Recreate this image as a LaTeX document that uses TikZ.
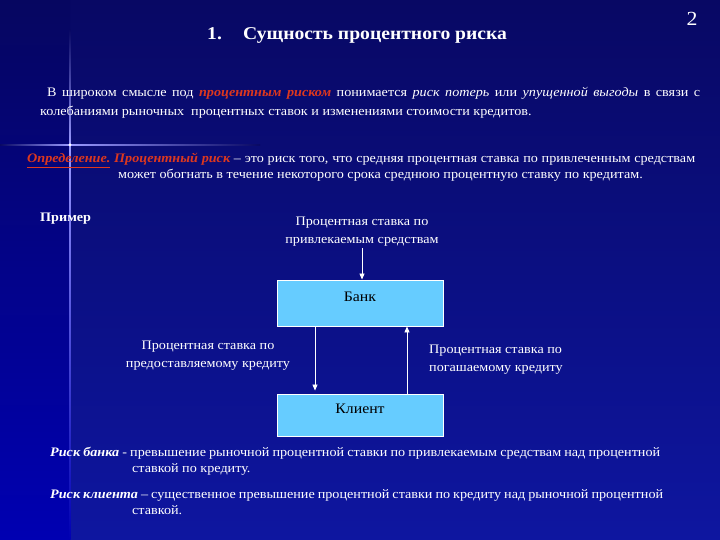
\documentclass[tikz,border=0pt]{standalone}
\usepackage{fontspec}
\setmainfont[FakeStretch=1.09]{Liberation Serif}
\usetikzlibrary{arrows.meta}
\definecolor{bgtop}{RGB}{8,8,100}
\definecolor{bgbot}{RGB}{14,22,160}
\definecolor{striptop}{RGB}{6,6,96}
\definecolor{stripbot}{RGB}{0,0,178}
\definecolor{riskred}{RGB}{222,56,30}
\definecolor{boxfill}{RGB}{102,204,255}
\tikzset{
  txt/.style={text=white,inner sep=0pt,font=\fontsize{13}{15.5}\selectfont},
  lbl/.style={txt,align=center,font=\fontsize{13}{18}\selectfont},
  box/.style={draw=white,line width=0.9pt,fill=boxfill,minimum width=166pt,inner sep=0pt},
  boxtxt/.style={text=black,inner sep=0pt,font=\fontsize{14.5}{17}\selectfont},
  flow/.style={draw=white,line width=0.8pt,-{Triangle[width=5pt,length=6pt]}},
}
\begin{document}
\begin{tikzpicture}[x=1pt,y=-1pt]
\useasboundingbox (0,0) rectangle (720,540);
% background
\shade[top color=bgtop,bottom color=bgbot] (0,0) rectangle (720,540);
\shade[top color=striptop,bottom color=stripbot] (0,0) rectangle (70,540);
\shade[left color=bgtop,right color=white!60!blue] (0,144.4) rectangle (70,145.6);
\shade[left color=white!60!blue,right color=bgtop] (70,144.4) rectangle (260,145.6);
\shade[top color=bgtop,bottom color=white!60!blue] (69.4,30) rectangle (70.6,145);
\shade[top color=white!60!blue,bottom color=blue!70!black] (69.4,145) rectangle (70.6,540);
\fill[white] (70,145) circle (1.5pt);
% page number and title
\node[txt,anchor=base,font=\fontsize{20}{22}\selectfont] (num) at (692,26) {2};
\node[txt,anchor=base west,font=\bfseries\fontsize{18}{20}\selectfont] (t1) at (207,40) {1.};
\node[txt,anchor=base west,font=\bfseries\fontsize{18}{20}\selectfont] (title) at (243,40) {Сущность процентного риска};
% paragraph
\node[txt,anchor=base west] (p1) at (47,97) {\makebox[653pt][s]{В широком смысле под \textcolor{riskred}{\bfseries\itshape процентным риском} понимается \textit{риск потерь} или \textit{упущенной выгоды} в связи с}};
\node[txt,anchor=base west] (p2) at (40,116) {колебаниями рыночных \ процентных ставок и изменениями стоимости кредитов.};
% definition
\node[txt,anchor=base west] (d1) at (27,163) {\makebox[668pt][s]{\textcolor{riskred}{\bfseries\itshape\underline{Определение.} Процентный риск} – это риск того, что средняя процентная ставка по привлеченным средствам}};
\node[txt,anchor=base west] (d2) at (118,179) {может обогнать в течение некоторого срока среднюю процентную ставку по кредитам.};
% example
\node[txt,anchor=base west,font=\bfseries\fontsize{13}{15.5}\selectfont] (ex) at (40,222) {Пример};
\node[lbl] (top) at (362,232) {Процентная ставка по\\привлекаемым средствам};
\node[box,minimum height=46pt] (bank) at (360,303) {};
\node[boxtxt,anchor=base] (bankt) at (360,301) {Банк};
\node[box,minimum height=42pt] (client) at (360,415) {};
\node[boxtxt,anchor=base] (clientt) at (360,413) {Клиент};
\coordinate (tops) at (362,248);
\draw[flow] (tops) -- (bank.north -| tops);
\draw[flow] (bank.south -| 315,0) -- ([yshift=3pt]client.north -| 315,0);
\draw[flow] (client.north -| 407,0) -- (bank.south -| 407,0);
\node[lbl] (ll) at (208,356) {Процентная ставка по\\предоставляемому кредиту};
\node[lbl,align=left,anchor=west] (rl) at (429,360) {Процентная ставка по\\погашаемому кредиту};
% risks
\node[txt,anchor=base west] (r1) at (50,456) {\makebox[610pt][s]{\textbf{\itshape Риск банка} - превышение рыночной процентной ставки по привлекаемым средствам над процентной}};
\node[txt,anchor=base west] (r1b) at (132,472) {ставкой по кредиту.};
\node[txt,anchor=base west] (r2) at (50,498) {\makebox[613pt][s]{\textbf{\itshape Риск клиента} – существенное превышение процентной ставки по кредиту над рыночной процентной}};
\node[txt,anchor=base west] (r2b) at (132,514) {ставкой.};
\end{tikzpicture}
\end{document}
